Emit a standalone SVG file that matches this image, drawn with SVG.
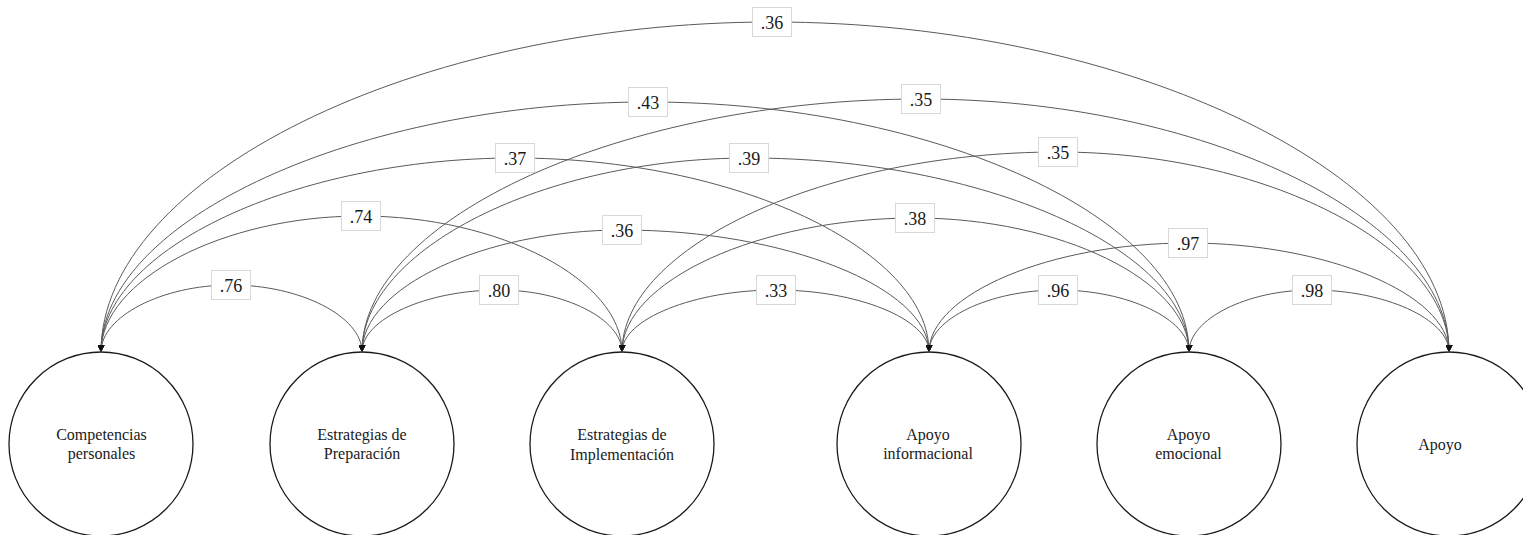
<svg xmlns="http://www.w3.org/2000/svg" width="1523" height="535" viewBox="0 0 1523 535">
<style>
.node circle{fill:#fff;stroke:#1a1a1a;stroke-width:1.3}
.node text{font-family:"Liberation Serif","Times New Roman",serif;font-size:16px;fill:#1a1a1a;text-anchor:middle}
#connectors path{fill:none;stroke:#5a5a5a;stroke-width:1;marker-start:url(#ah);marker-end:url(#ah)}
.lbl rect{fill:#fff;stroke:#d8d8d8;stroke-width:1}
.lbl text{font-family:"Liberation Serif","Times New Roman",serif;font-size:18px;fill:#1a1a1a;text-anchor:middle}
</style>
<defs>
<marker id="ah" markerUnits="userSpaceOnUse" markerWidth="7" markerHeight="7" refX="7" refY="3.5" orient="auto-start-reverse">
<path d="M0,0 L7,3.5 L0,7 z" fill="#111"/>
</marker>
</defs>
<rect width="1523" height="535" fill="#fff"/>
<g id="n1" class="node"><circle cx="101" cy="444" r="92"/><text x="101.5" y="440">Competencias</text><text x="101.5" y="459">personales</text></g>
<g id="n2" class="node"><circle cx="362" cy="444" r="92"/><text x="362" y="440">Estrategias de</text><text x="362" y="459">Preparación</text></g>
<g id="n3" class="node"><circle cx="622" cy="444" r="92"/><text x="622" y="440">Estrategias de</text><text x="622" y="460">Implementación</text></g>
<g id="n4" class="node"><circle cx="929" cy="444" r="92"/><text x="928" y="440">Apoyo</text><text x="928" y="459">informacional</text></g>
<g id="n5" class="node"><circle cx="1189" cy="444" r="92"/><text x="1188.5" y="440">Apoyo</text><text x="1188.5" y="459">emocional</text></g>
<g id="n6" class="node"><circle cx="1449" cy="444" r="92"/><text x="1440" y="450">Apoyo</text></g>
<g id="connectors">
<path d="M101,352 C101,316.5 162.1,285 231,285 C300.4,285 362,316.5 362,352"/>
<path d="M362,352 C362,319.1 426.4,290 499,290 C564.2,290 622,319.1 622,352"/>
<path d="M622,352 C622,319.1 694.4,290 776,290 C857.1,290 929,319.1 929,352"/>
<path d="M929,352 C929,319.1 989.6,290 1058,290 C1127.4,290 1189,319.1 1189,352"/>
<path d="M1189,352 C1189,319.1 1246.8,290 1312,290 C1384.6,290 1449,319.1 1449,352"/>
<path d="M101,352 C101,279.9 223.2,216 361,216 C499.3,216 622,279.9 622,352"/>
<path d="M362,352 C362,287.3 484.2,230 622,230 C784.7,230 929,287.3 929,352"/>
<path d="M622,352 C622,281 759.7,218 915,218 C1060.2,218 1189,281 1189,352"/>
<path d="M929,352 C929,294.2 1050.7,243 1188,243 C1326.3,243 1449,294.2 1449,352"/>
<path d="M101,352 C101,249.2 295.6,158 515,158 C734.4,158 929,249.2 929,352"/>
<path d="M362,352 C362,249.2 543.9,158 749,158 C982.2,158 1189,249.2 1189,352"/>
<path d="M622,352 C622,246 826.9,152 1058,152 C1265.2,152 1449,246 1449,352"/>
<path d="M101,352 C101,219.5 358.1,102 648,102 C934.7,102 1189,219.5 1189,352"/>
<path d="M362,352 C362,217.9 624.7,99 921,99 C1200.8,99 1449,217.9 1449,352"/>
<path d="M101,352 C101,177.1 416.4,22 772,22 C1130.8,22 1449,177.1 1449,352"/>
<g class="lbl"><rect x="211.5" y="270.5" width="39" height="29"/><text x="231" y="292">.76</text></g>
<g class="lbl"><rect x="479.5" y="275.5" width="39" height="29"/><text x="499" y="297">.80</text></g>
<g class="lbl"><rect x="756.5" y="275.5" width="39" height="29"/><text x="776" y="297">.33</text></g>
<g class="lbl"><rect x="1038.5" y="275.5" width="39" height="29"/><text x="1058" y="297">.96</text></g>
<g class="lbl"><rect x="1292.5" y="275.5" width="39" height="29"/><text x="1312" y="297">.98</text></g>
<g class="lbl"><rect x="341.5" y="201.5" width="39" height="29"/><text x="361" y="223">.74</text></g>
<g class="lbl"><rect x="602.5" y="215.5" width="39" height="29"/><text x="622" y="237">.36</text></g>
<g class="lbl"><rect x="895.5" y="203.5" width="39" height="29"/><text x="915" y="225">.38</text></g>
<g class="lbl"><rect x="1168.5" y="228.5" width="39" height="29"/><text x="1188" y="250">.97</text></g>
<g class="lbl"><rect x="495.5" y="143.5" width="39" height="29"/><text x="515" y="165">.37</text></g>
<g class="lbl"><rect x="729.5" y="143.5" width="39" height="29"/><text x="749" y="165">.39</text></g>
<g class="lbl"><rect x="1038.5" y="137.5" width="39" height="29"/><text x="1058" y="159">.35</text></g>
<g class="lbl"><rect x="628.5" y="87.5" width="39" height="29"/><text x="648" y="109">.43</text></g>
<g class="lbl"><rect x="901.5" y="84.5" width="39" height="29"/><text x="921" y="106">.35</text></g>
<g class="lbl"><rect x="752.5" y="7.5" width="39" height="29"/><text x="772" y="29">.36</text></g>
</g>
</svg>
